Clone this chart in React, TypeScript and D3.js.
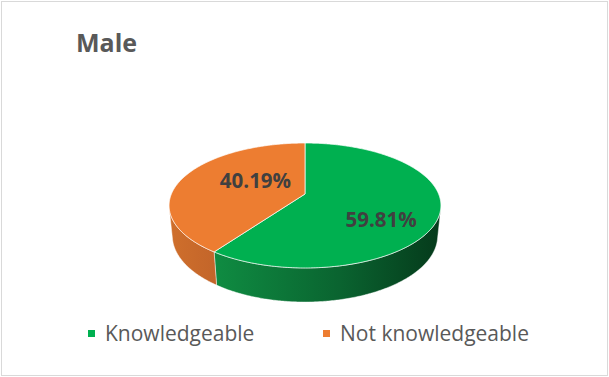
import React from "react";
import * as d3 from "d3";

// Share of respondents by knowledge status
const categories = ["Knowledgeable", "Not knowledgeable"];
const values = [59.81, 40.19];
const topColors = ["#00b050", "#ed7d31"];
const title = "Male";

const W = 609;
const H = 377;

// Perspective camera for the 3D pie (unit-radius disc)
const cx = 305;
const cy = 194;
const tilt = (26.85 * Math.PI) / 180;
const sinT = Math.sin(tilt);
const cosT = Math.cos(tilt);
const camDist = 4.85;
const focal = 648;
const thickness = 0.2547;

function proj(theta: number, w: number, r = 1): [number, number] {
  const u = r * Math.sin(theta);
  const v = r * Math.cos(theta);
  const depth = camDist + v * cosT - w * sinT;
  return [cx + (focal * u) / depth, cy - (focal * (v * sinT + w * cosT)) / depth];
}

function arcPoints(a0: number, a1: number, w: number): [number, number][] {
  const n = Math.max(2, Math.ceil(Math.abs(a1 - a0) / 0.01));
  return d3.range(n + 1).map((i) => proj(a0 + ((a1 - a0) * i) / n, w));
}

const line = d3.line<[number, number]>();

// Angles where the outer wall faces the camera
const wallLimit = Math.acos(-1 / (camDist * cosT));
const wallMin = wallLimit;
const wallMax = 2 * Math.PI - wallLimit;

export default function App() {
  const arcs = d3
    .pie<number>()
    .sort(null)
    .startAngle(0)
    .endAngle(2 * Math.PI)(values);

  const apex = proj(0, 0, 0);

  const walls = arcs.map((a, i) => {
    const a0 = Math.max(a.startAngle, wallMin);
    const a1 = Math.min(a.endAngle, wallMax);
    if (a1 <= a0) return null;
    const top = arcPoints(a0, a1, 0);
    const bottom = arcPoints(a1, a0, -thickness);
    return { i, d: line([...top, ...bottom])! + "Z" };
  });

  const tops = arcs.map((a, i) => {
    const pts = [apex, ...arcPoints(a.startAngle, a.endAngle, 0)];
    return { i, d: line(pts)! + "Z" };
  });

  const labelR = 0.5;
  const labelShift: [number, number][] = [
    [10.6, 16],
    [12.4, -4.6],
  ];
  const labels = arcs.map((a, i) => {
    const mid = (a.startAngle + a.endAngle) / 2;
    const [x, y] = proj(mid, 0, labelR);
    return { x: x + labelShift[i][0], y: y + labelShift[i][1], text: values[i].toFixed(2) + "%" };
  });

  const font = "'Open Sans', 'Noto Sans', sans-serif";
  const legendX = [88, 323];

  return (
    <svg
      width={W}
      height={H}
      style={{ position: "absolute", left: 0, top: 0, display: "block" }}
    >
      <defs>
        <linearGradient id="wall0" gradientUnits="userSpaceOnUse" x1={214} y1={0} x2={441} y2={0}>
          <stop offset="0" stopColor="#0f8c42" />
          <stop offset="0.55" stopColor="#0a6430" />
          <stop offset="1" stopColor="#053a1b" />
        </linearGradient>
        <linearGradient id="wall1" gradientUnits="userSpaceOnUse" x1={169} y1={0} x2={216} y2={0}>
          <stop offset="0" stopColor="#cf6f2c" />
          <stop offset="1" stopColor="#c3652a" />
        </linearGradient>
      </defs>
      <rect x={0} y={0} width={W} height={H} fill="#ffffff" />
      <rect x={1.5} y={1.5} width={606} height={374} fill="#ffffff" stroke="#d9d9d9" strokeWidth={1} />

      <text x={76} y={52} fontFamily={font} fontWeight={700} fontSize={25} fill="#595959">
        {title}
      </text>

      {walls.map((w) =>
        w ? (
          <path
            key={"w" + w.i}
            d={w.d}
            fill={`url(#wall${w.i})`}
            stroke="rgba(255,255,255,0.55)"
            strokeWidth={0.8}
            strokeLinejoin="round"
          />
        ) : null
      )}
      {tops.map((t) => (
        <path
          key={"t" + t.i}
          d={t.d}
          fill={topColors[t.i]}
          stroke="rgba(255,255,255,0.7)"
          strokeWidth={1}
          strokeLinejoin="round"
        />
      ))}

      {labels.map((l, i) => (
        <text
          key={"l" + i}
          x={l.x}
          y={l.y}
          dy="0.35em"
          textAnchor="middle"
          fontFamily={font}
          fontWeight={700}
          fontSize={20.5}
          fill="#404040"
        >
          {l.text}
        </text>
      ))}

      {categories.map((c, i) => (
        <g key={"g" + i}>
          <rect x={legendX[i]} y={330} width={7} height={7} fill={topColors[i]} />
          <text x={legendX[i] + 17} y={341} fontFamily={font} fontSize={21} fill="#595959">
            {c}
          </text>
        </g>
      ))}
    </svg>
  );
}
